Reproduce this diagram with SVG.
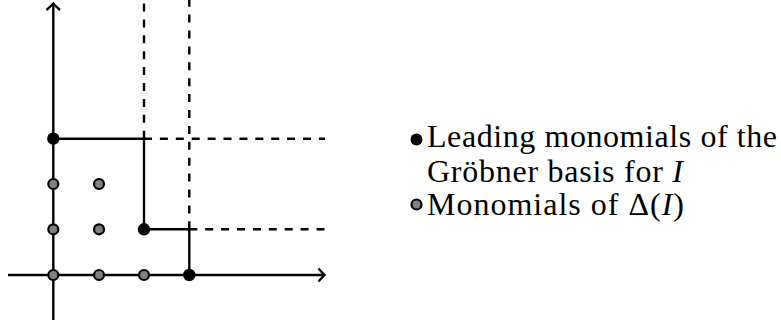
<svg xmlns="http://www.w3.org/2000/svg" width="781" height="327" viewBox="0 0 781 327">
  <style>
    .axis { stroke: #000; stroke-width: 2.4; fill: none; }
    .solid { stroke: #000; stroke-width: 2.4; fill: none; }
    .dash { stroke: #000; stroke-width: 2.4; fill: none; stroke-dasharray: 8 7.9; }
    .lead { fill: #000; }
    .mono { fill: #808080; stroke: #000; stroke-width: 2.2; }
    .label { font-family: "Liberation Serif", "DejaVu Serif", serif; font-size: 32px; fill: #000; }
    .it { font-style: italic; }
  </style>

  <!-- axes -->
  <g id="axes">
    <path class="axis" d="M8,275 H324"/>
    <path class="axis" d="M318.5,268.5 Q322,272.5 324.5,275 Q322,277.5 318.5,281.5"/>
    <path class="axis" d="M53.3,320 V4"/>
    <path class="axis" d="M46.5,10 Q50.5,6.5 53.3,3.5 Q56,6.5 60,10"/>
  </g>

  <!-- staircase boundary of the monomial ideal -->
  <g id="connectors">
    <path class="solid" d="M53.3,138.7 H144 V229.3 H189.3 V275"/>
    <path class="dash" d="M144,138.7 V0"/>
    <path class="dash" d="M189.3,229.3 V0"/>
    <path class="dash" d="M144,138.7 H325"/>
    <path class="dash" d="M189.3,229.3 H325"/>
  </g>

  <!-- leading monomials -->
  <g id="lead-y3"><circle class="lead" cx="53.3" cy="138.7" r="6.2"/></g>
  <g id="lead-x2y"><circle class="lead" cx="144" cy="229.3" r="6.2"/></g>
  <g id="lead-x3"><circle class="lead" cx="189.3" cy="275" r="6.2"/></g>

  <!-- standard monomials -->
  <g id="mono-1"><circle class="mono" cx="53.3" cy="275" r="5"/></g>
  <g id="mono-x"><circle class="mono" cx="99" cy="275" r="5"/></g>
  <g id="mono-x2"><circle class="mono" cx="144" cy="275" r="5"/></g>
  <g id="mono-y"><circle class="mono" cx="53.3" cy="229.3" r="5"/></g>
  <g id="mono-xy"><circle class="mono" cx="99" cy="229.3" r="5"/></g>
  <g id="mono-y2"><circle class="mono" cx="53.3" cy="184" r="5"/></g>
  <g id="mono-xy2"><circle class="mono" cx="99" cy="184" r="5"/></g>

  <!-- legend -->
  <g id="legend">
    <circle class="lead" cx="416.5" cy="139.5" r="6"/>
    <text class="label" x="427" y="147" textLength="350" lengthAdjust="spacing">Leading monomials of the</text>
    <text class="label" x="427" y="181.5" textLength="256" lengthAdjust="spacing">Gröbner basis for <tspan class="it">I</tspan></text>
    <circle class="mono" cx="416.5" cy="204.5" r="5"/>
    <text class="label" x="427" y="215" textLength="257" lengthAdjust="spacing">Monomials of Δ(<tspan class="it">I</tspan>)</text>
  </g>
</svg>
